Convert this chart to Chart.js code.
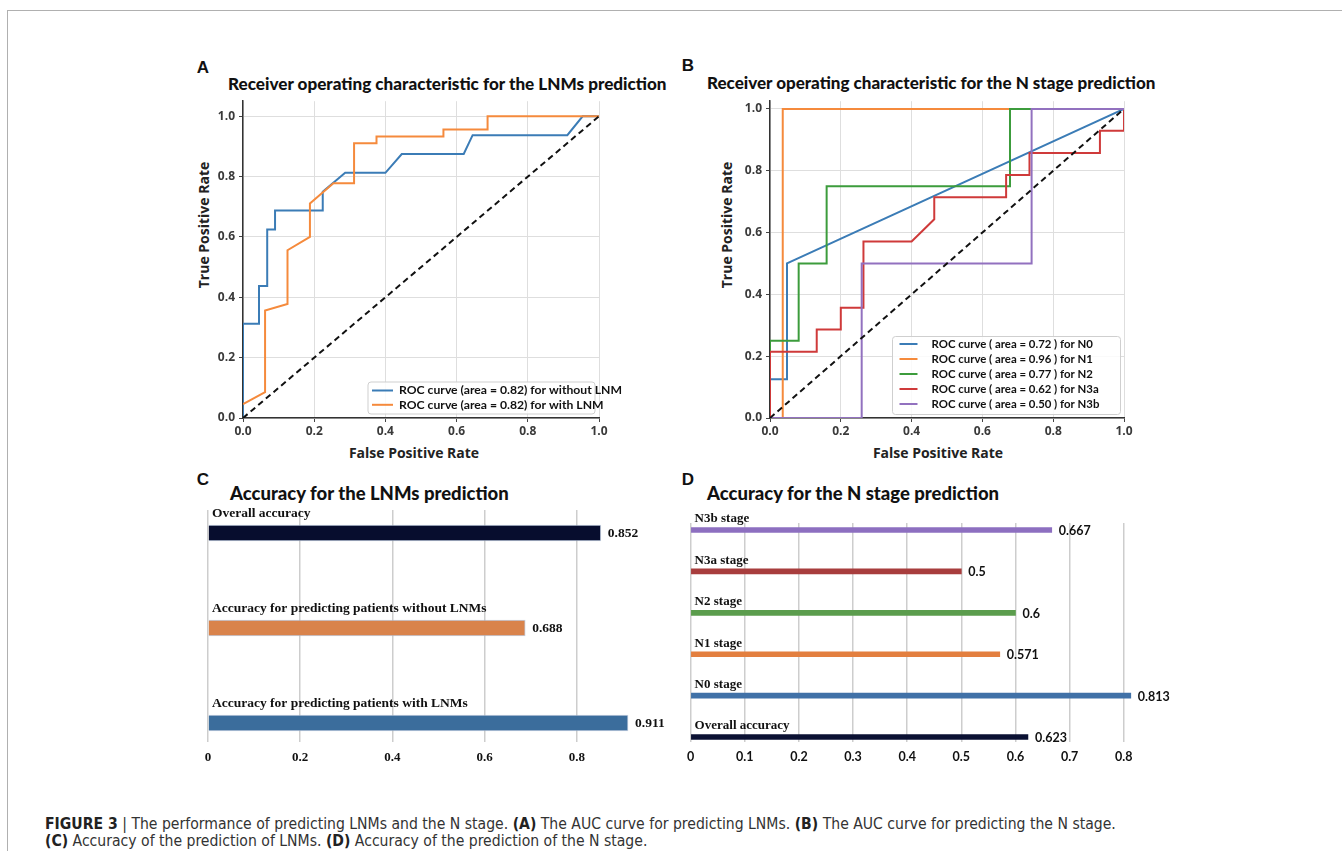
<!DOCTYPE html>
<html>
<head>
<meta charset="utf-8">
<script src="https://cdn.jsdelivr.net/npm/chart.js@4.4.0/dist/chart.umd.min.js"></script>
<style>
body { margin: 0; background: #fff; width: 1342px; height: 851px; overflow: hidden; position: relative; }
.frame { position: absolute; left: 7px; top: 10px; width: 1400px; height: 900px; border-left: 1px solid #b0b0b0; border-top: 1px solid #b0b0b0; }
canvas { position: absolute; }
.letter { position: absolute; font: bold 17px "Liberation Sans", Arial, sans-serif; color: #111; transform: translate(-50%, -50%); }
.title { position: absolute; font-family: Lato, sans-serif; font-weight: 900; color: #111; white-space: nowrap; transform: translateY(-50%); }
.axis { position: absolute; font: bold 14px "Open Sans", sans-serif; color: #222; white-space: nowrap; transform: translate(-50%, -50%); }
.axis.v { transform: translate(-50%, -50%) rotate(-90deg); }
.caption { position: absolute; left: 45px; top: 816px; font-family: "Liberation Sans Narrow", "DejaVu Sans Condensed", sans-serif; font-size: 15.6px; line-height: 17px; color: #333; white-space: nowrap; }
.caption b { color: #222; }
</style>
</head>
<body>
<div class="frame"></div>

<div class="letter" style="left:203px;top:68px">A</div>
<div class="letter" style="left:688px;top:66px">B</div>
<div class="letter" style="left:203px;top:480px">C</div>
<div class="letter" style="left:688px;top:480px">D</div>

<div class="title" style="left:228px;top:83px;font-size:17.1px">Receiver operating characteristic for the LNMs prediction</div>
<div class="title" style="left:707px;top:82px;font-size:17px">Receiver operating characteristic for the N stage prediction</div>
<div class="title" style="left:230px;top:493px;font-size:18.5px">Accuracy for the LNMs prediction</div>
<div class="title" style="left:707px;top:493px;font-size:18.5px">Accuracy for the N stage prediction</div>

<div class="axis v" style="left:203px;top:225px">True Positive Rate</div>
<div class="axis" style="left:414px;top:452px">False Positive Rate</div>
<div class="axis v" style="left:726px;top:225px">True Positive Rate</div>
<div class="axis" style="left:938px;top:452px">False Positive Rate</div>

<canvas id="rocA" width="460" height="380" style="left:190px;top:90px"></canvas>
<canvas id="rocB" width="440" height="380" style="left:700px;top:90px"></canvas>
<canvas id="accC" width="480" height="290" style="left:190px;top:480px"></canvas>
<canvas id="accD" width="500" height="270" style="left:680px;top:500px"></canvas>

<div class="caption"><b>FIGURE 3</b> | The performance of predicting LNMs and the N stage. <b>(A)</b> The AUC curve for predicting LNMs. <b>(B)</b> The AUC curve for predicting the N stage.<br><b>(C)</b> Accuracy of the prediction of LNMs. <b>(D)</b> Accuracy of the prediction of the N stage.</div>

<script>
// ROC panel A
const rocTicks = [0, 0.2, 0.4, 0.6, 0.8, 1.0];
const chanceLine = [0, 1];

const fprWithoutLNM = [0, 0, 0.045, 0.045, 0.068, 0.068, 0.09, 0.09, 0.224, 0.224, 0.287, 0.40, 0.446, 0.62, 0.645, 0.911, 0.954, 1];
const tprWithoutLNM = [0, 0.3125, 0.3125, 0.4375, 0.4375, 0.625, 0.625, 0.6875, 0.6875, 0.75, 0.8125, 0.8125, 0.875, 0.875, 0.9375, 0.9375, 1, 1];
const fprWithLNM = [0, 0.062, 0.062, 0.125, 0.125, 0.188, 0.188, 0.254, 0.312, 0.312, 0.375, 0.375, 0.563, 0.563, 0.687, 0.687, 1];
const tprWithLNM = [0.046, 0.086, 0.356, 0.378, 0.556, 0.60, 0.711, 0.778, 0.778, 0.911, 0.911, 0.933, 0.933, 0.956, 0.956, 1, 1];

// ROC panel B
const fprN0 = [0, 0, 0.048, 0.048, 1];
const tprN0 = [0, 0.125, 0.125, 0.5, 1];
const fprN1 = [0, 0.036, 0.036, 1];
const tprN1 = [0, 0, 1, 1];
const fprN2 = [0, 0, 0.081, 0.081, 0.16, 0.16, 0.678, 0.678, 1];
const tprN2 = [0, 0.25, 0.25, 0.5, 0.5, 0.75, 0.75, 1, 1];
const fprN3a = [0, 0, 0.132, 0.132, 0.2, 0.2, 0.264, 0.264, 0.40, 0.464, 0.464, 0.667, 0.667, 0.733, 0.733, 0.932, 0.932, 1, 1];
const tprN3a = [0, 0.214, 0.214, 0.286, 0.286, 0.357, 0.357, 0.571, 0.571, 0.643, 0.714, 0.714, 0.786, 0.786, 0.857, 0.857, 0.929, 0.929, 1];
const fprN3b = [0, 0.259, 0.259, 0.739, 0.739, 1];
const tprN3b = [0, 0, 0.5, 0.5, 1, 1];

// accuracy panels
const lnmCategories = ['Overall accuracy', 'Accuracy for predicting patients without LNMs', 'Accuracy for predicting patients with LNMs'];
const lnmAccuracy = [0.852, 0.688, 0.911];
const lnmTicks = [0, 0.2, 0.4, 0.6, 0.8];

const stageCategories = ['N3b stage', 'N3a stage', 'N2 stage', 'N1 stage', 'N0 stage', 'Overall accuracy'];
const stageAccuracy = [0.667, 0.5, 0.6, 0.571, 0.813, 0.623];
const stageTicks = [0, 0.1, 0.2, 0.3, 0.4, 0.5, 0.6, 0.7, 0.8];

const pts = (xs, ys) => xs.map((x, i) => ({ x: x, y: ys[i] }));

Chart.defaults.animation = false;
Chart.defaults.responsive = false;
Chart.defaults.devicePixelRatio = 1;
Chart.defaults.plugins.legend.display = false;
Chart.defaults.plugins.tooltip.enabled = false;

// legend drawn inside the plot, lower right
const boxLegend = {
    id: 'boxLegend',
    afterDraw(chart, args, o) {
        if (!o.width) return;
        const ctx = chart.ctx, a = chart.chartArea;
        const items = chart.data.datasets.filter(d => d.label);
        const bx = a.right - o.margin - o.width, by = a.bottom - o.margin - o.height;
        ctx.save();
        ctx.beginPath();
        ctx.roundRect(bx, by, o.width, o.height, 3);
        ctx.fillStyle = 'rgba(255,255,255,0.85)';
        ctx.fill();
        ctx.strokeStyle = '#cfcfcf';
        ctx.lineWidth = 1;
        ctx.stroke();
        ctx.font = o.font;
        ctx.textBaseline = 'middle';
        items.forEach((d, i) => {
            const y = by + o.first + i * o.row;
            ctx.strokeStyle = d.borderColor;
            ctx.lineWidth = 2;
            ctx.beginPath();
            ctx.moveTo(bx + o.sampleX, y);
            ctx.lineTo(bx + o.sampleX + o.sampleW, y);
            ctx.stroke();
            ctx.fillStyle = '#111';
            ctx.fillText(d.label, bx + o.textX, y);
        });
        ctx.restore();
    }
};

// bar captions: category above, value to the right
const barText = {
    id: 'barText',
    afterDatasetsDraw(chart, args, o) {
        if (!o.labels) return;
        const ctx = chart.ctx, a = chart.chartArea;
        const meta = chart.getDatasetMeta(0);
        ctx.save();
        ctx.textBaseline = 'middle';
        meta.data.forEach((bar, i) => {
            ctx.fillStyle = '#111';
            ctx.font = o.labelFont;
            ctx.textAlign = 'left';
            ctx.fillText(o.labels[i], a.left + 4, bar.y - o.labelGap);
            ctx.font = o.valueFont;
            ctx.fillText(String(o.values[i]), bar.x + 7, bar.y + 1);
        });
        ctx.restore();
    }
};
Chart.register(boxLegend, barText);

const tickFont = { family: 'Open Sans', size: 12, weight: 'bold' };

function rocScales(yMax, yWidth) {
    return {
        x: {
            type: 'linear', min: 0, max: 1,
            afterBuildTicks: s => { s.ticks = rocTicks.map(v => ({ value: v })); },
            afterFit: s => { s.height = 52; },
            grid: { color: '#dedede', lineWidth: 1, tickLength: 4, tickColor: '#444' },
            border: { color: '#333', width: 1.5 },
            ticks: { color: '#3a3a3a', font: tickFont, padding: 2, maxRotation: 0, callback: v => v.toFixed(1) }
        },
        y: {
            type: 'linear', min: 0, max: yMax,
            afterBuildTicks: s => { s.ticks = rocTicks.map(v => ({ value: v })); },
            afterFit: s => { s.width = yWidth; },
            grid: { color: '#dedede', lineWidth: 1, tickLength: 4, tickColor: '#444' },
            border: { color: '#333', width: 1.5 },
            ticks: { color: '#3a3a3a', font: tickFont, padding: 4, callback: v => v.toFixed(1) }
        }
    };
}

function curve(label, xs, ys, color, order) {
    return { label: label, data: pts(xs, ys), borderColor: color, borderWidth: 2, pointRadius: 0, tension: 0, order: order };
}
function diagonal() {
    return { data: pts(chanceLine, chanceLine), borderColor: '#111', borderWidth: 2, borderDash: [6, 4], pointRadius: 0, order: 0 };
}

new Chart(document.getElementById('rocA'), {
    type: 'line',
    data: {
        datasets: [
            curve('ROC curve (area = 0.82) for without LNM', fprWithoutLNM, tprWithoutLNM, '#3b7cb6', 2),
            curve('ROC curve (area = 0.82) for with LNM', fprWithLNM, tprWithLNM, '#f58a3c', 1),
            diagonal()
        ]
    },
    options: {
        layout: { padding: { top: 8, right: 51, left: 0, bottom: 0 } },
        scales: rocScales(1.05, 53),
        plugins: {
            boxLegend: { width: 227, height: 32, margin: 4, first: 8.5, row: 14.3, sampleX: 4, sampleW: 21, textX: 31, font: 'bold 12.2px Lato' }
        }
    }
});

new Chart(document.getElementById('rocB'), {
    type: 'line',
    data: {
        datasets: [
            curve('ROC curve ( area = 0.72 ) for N0', fprN0, tprN0, '#3b7cb6', 5),
            curve('ROC curve ( area = 0.96 ) for N1', fprN1, tprN1, '#f58a3c', 4),
            curve('ROC curve ( area = 0.77 ) for N2', fprN2, tprN2, '#3c9c3c', 3),
            curve('ROC curve ( area = 0.62 ) for N3a', fprN3a, tprN3a, '#cf3a3a', 2),
            curve('ROC curve ( area = 0.50 ) for N3b', fprN3b, tprN3b, '#9271bf', 1),
            diagonal()
        ]
    },
    options: {
        layout: { padding: { top: 7, right: 16, left: 0, bottom: 0 } },
        scales: rocScales(1.025, 70),
        plugins: {
            boxLegend: { width: 228, height: 78, margin: 3.5, first: 7.5, row: 15, sampleX: 7, sampleW: 18, textX: 39, font: 'bold 11.4px Lato' }
        }
    }
});

function accScales(max, ticks, yMin, yMax, font, pad) {
    return {
        x: {
            type: 'linear', min: 0, max: max,
            afterBuildTicks: s => { s.ticks = ticks.map(v => ({ value: v })); },
            afterFit: s => { s.height = 28; },
            grid: { color: '#cdcdcd', lineWidth: 1.5, drawTicks: false },
            border: { display: false },
            ticks: { color: '#111', font: font, padding: pad, maxRotation: 0, callback: v => String(v) }
        },
        y: { type: 'linear', min: yMin, max: yMax, reverse: true, offset: false, display: false }
    };
}

new Chart(document.getElementById('accC'), {
    type: 'bar',
    data: {
        datasets: [{
            data: lnmAccuracy.map((v, i) => ({ x: v, y: i })),
            backgroundColor: ['#070d2e', '#d9834b', '#3b6d9c'],
            borderColor: 'rgba(170,185,210,0.7)',
            borderWidth: 1,
            barThickness: 16
        }]
    },
    options: {
        indexAxis: 'y',
        layout: { padding: { top: 30, right: 24, left: 18, bottom: 0 } },
        scales: accScales(0.95, lnmTicks, -0.242, 2.2, { family: 'Liberation Serif', size: 13, weight: 'bold' }, 8),
        plugins: {
            barText: { labels: lnmCategories, values: lnmAccuracy, labelGap: 19, labelFont: 'bold 13.5px "Liberation Serif"', valueFont: 'bold 13.5px "Liberation Serif"' }
        }
    }
});

new Chart(document.getElementById('accD'), {
    type: 'bar',
    data: {
        datasets: [{
            data: stageAccuracy.map((v, i) => ({ x: v, y: i })),
            backgroundColor: ['#8d6fc0', '#a83d3d', '#5b9d4d', '#e37f3f', '#4071a7', '#0b1133'],
            barThickness: 5
        }]
    },
    options: {
        indexAxis: 'y',
        layout: { padding: { top: 23, right: 40, left: 7, bottom: 0 } },
        scales: accScales(0.83, stageTicks, -0.17, 5.12, { family: 'Lato', size: 12.5, weight: 'bold' }, 7),
        plugins: {
            barText: { labels: stageCategories, values: stageAccuracy, labelGap: 11, labelFont: 'bold 13px "Liberation Serif"', valueFont: 'bold 12.5px Lato' }
        }
    }
});
</script>
</body>
</html>
